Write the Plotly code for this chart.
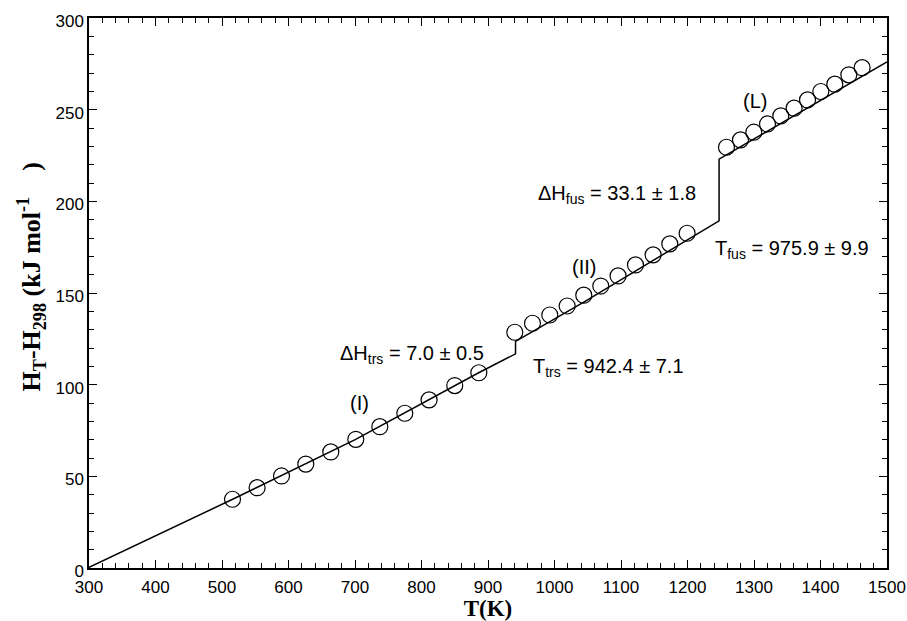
import plotly.graph_objects as go

# Experimental points (phase I, II, liquid)
T_I = [515.8, 552.8, 589.5, 626.0, 663.6, 701.2, 737.3, 774.9, 811.4, 850.0, 886.2]
H_I = [37.5, 43.8, 50.2, 56.7, 63.3, 70.2, 77.1, 84.4, 91.7, 99.5, 106.5]
T_II = [940.3, 966.9, 992.9, 1019.0, 1044.0, 1069.6, 1095.6, 1121.8, 1148.3, 1173.4, 1199.4]
H_II = [128.6, 133.5, 138.0, 142.9, 148.8, 153.8, 159.3, 165.3, 170.8, 176.8, 182.6]
T_L = [1258.6, 1279.7, 1299.7, 1320.3, 1340.3, 1360.3, 1380.5, 1400.5, 1421.5, 1442.6, 1462.6]
H_L = [229.5, 233.5, 237.7, 242.2, 246.6, 250.8, 255.3, 259.9, 263.9, 269.0, 272.9]

# Fitted enthalpy curve
T_fit = [298, 516, 701, 886, 941.4, 941.4, 1044, 1150, 1247.5, 1247.5, 1500]
H_fit = [0, 37.5, 70.2, 106.5, 116.8, 123.6, 145.0, 168.0, 189.4, 223.0, 276.0]

x_ticks = list(range(300, 1501, 100))
y_ticks = list(range(0, 301, 50))

fig = go.Figure()
fig.add_trace(go.Scatter(x=T_fit, y=H_fit, mode="lines",
                         line=dict(color="black", width=1.5), showlegend=False))
for tx, hy in [(T_I, H_I), (T_II, H_II), (T_L, H_L)]:
    fig.add_trace(go.Scatter(x=tx, y=hy, mode="markers",
                             marker=dict(symbol="circle-open", size=16,
                                         color="black", line=dict(width=1.2)),
                             showlegend=False))

afont = dict(family="Liberation Sans, Arial", size=20, color="black")
annots = [
    (707, 90, "(I)"),
    (1045, 164, "(II)"),
    (1301, 255, "(L)"),
    (785.4, 116.5, "ΔH<sub>trs</sub> = 7.0 ± 0.5"),
    (1081, 109.5, "T<sub>trs</sub> = 942.4 ± 7.1"),
    (1094.4, 204, "ΔH<sub>fus</sub> = 33.1 ± 1.8"),
    (1357.6, 173.5, "T<sub>fus</sub> = 975.9 ± 9.9"),
]
for ax, ay, txt in annots:
    fig.add_annotation(x=ax, y=ay, text=txt, showarrow=False, font=afont)

title_font = dict(family="Liberation Serif, Times New Roman", size=23, color="black")

# y-axis title drawn as a rotated annotation so it can sit where the original does
fig.add_annotation(
    xref="paper", yref="paper", x=-0.0727, y=0.53, xanchor="center", yanchor="middle",
    text="<b>H<sub>T</sub>-H<sub>298</sub> (kJ mol<sup>-1</sup>&nbsp;&nbsp;&nbsp; )</b>",
    textangle=-90, showarrow=False,
    font=dict(family="Liberation Serif, Times New Roman", size=26, color="black"),
)

axis_common = dict(
    showgrid=False, zeroline=False, showline=True, linecolor="black", linewidth=1.5,
    mirror="ticks", ticks="inside", ticklen=8, tickwidth=1.2, tickcolor="black",
    tickfont=dict(family="Liberation Sans, Arial", size=17, color="black"),
    automargin=False,
)

fig.update_layout(
    width=907, height=621,
    margin=dict(l=89, r=20, t=18, b=53),
    plot_bgcolor="white", paper_bgcolor="white",
    xaxis=dict(range=[300, 1500], tickvals=x_ticks, ticklabelstandoff=3,
               minor=dict(ticks="inside", ticklen=5, dtick=20, tickcolor="black", tickwidth=1),
               title=dict(text="<b>T(K)</b>", standoff=9, font=title_font),
               **axis_common),
    yaxis=dict(range=[0, 300], tickvals=y_ticks, ticklabelshift=3,
               minor=dict(ticks="inside", ticklen=5, dtick=10, tickcolor="black", tickwidth=1),
               **axis_common),
)

fig.write_html("out.html")
